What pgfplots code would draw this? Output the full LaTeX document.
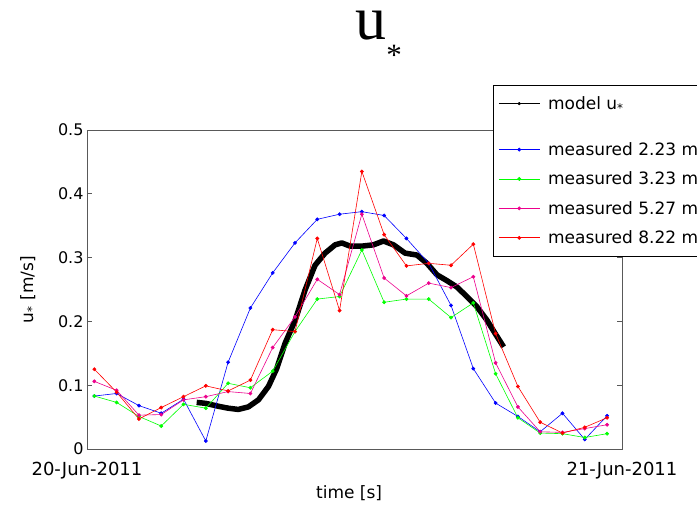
\documentclass[border=0pt]{standalone}
\usepackage{fontspec}
\setmainfont{DejaVu Sans}
\newfontfamily\titlefont{Liberation Serif}
\usepackage{pgfplots}
\pgfplotsset{compat=1.18}
\usepackage{pgfplotstable}

\pgfplotstableread{
h      b      g      m      r
0.33   0.083  0.083  0.106  0.125
1.33   0.087  0.073  0.092  0.089
2.33   0.068  0.051  0.053  0.047
3.33   0.056  0.036  0.054  0.065
4.33   0.078  0.070  0.077  0.082
5.33   0.0125 0.064  0.082  0.099
6.33   0.136  0.103  0.090  0.091
7.33   0.221  0.096  0.087  0.108
8.33   0.276  0.122  0.159  0.187
9.33   0.323  0.184  0.207  0.184
10.33  0.360  0.235  0.266  0.330
11.33  0.368  0.239  0.242  0.217
12.33  0.372  0.312  0.368  0.435
13.33  0.366  0.230  0.268  0.336
14.33  0.330  0.235  0.240  0.287
15.33  0.291  0.235  0.260  0.291
16.33  0.225  0.206  0.253  0.288
17.33  0.126  0.229  0.270  0.321
18.33  0.072  0.118  0.135  0.181
19.33  0.051  0.049  0.066  0.098
20.33  0.027  0.025  0.027  0.042
21.33  0.056  0.024  0.026  0.025
22.33  0.015  0.018  0.032  0.034
23.33  0.052  0.024  0.038  0.049
}\measured

\pgfplotstableread{
h      u
4.92   0.073
5.33   0.0715
5.89   0.067
6.33   0.064
6.79   0.062
7.24   0.066
7.69   0.077
8.14   0.098
8.51   0.126
8.89   0.166
9.34   0.202
9.78   0.249
10.23  0.288
10.68  0.307
11.13  0.320
11.43  0.323
11.80  0.318
12.33  0.318
12.85  0.320
13.30  0.326
13.75  0.320
14.27  0.307
14.80  0.304
15.25  0.291
15.70  0.273
16.14  0.264
16.59  0.254
17.04  0.239
17.49  0.223
17.94  0.202
18.31  0.181
18.69  0.160
}\model

\begin{document}
\begin{tikzpicture}
\begin{axis}[
  scale only axis,
  width=535pt, height=319pt,
  xmin=0, xmax=24, ymin=0, ymax=0.5,
  xtick={0,24},
  xticklabels={20-Jun-2011,21-Jun-2011},
  ytick={0,0.1,0.2,0.3,0.4,0.5},
  yticklabels={0,0.1,0.2,0.3,0.4,0.5},
  xticklabel style={font=\fontsize{18}{18}\selectfont, yshift=-10pt},
  yticklabel style={font=\fontsize{16}{16}\selectfont},
  axis line style={draw=black!65, line width=0.8pt},
  major tick style={draw=black!65, line width=0.8pt},
  major tick length=5pt,
  xlabel={time [s]},
  ylabel={u\textsubscript{*} [m/s]},
  label style={font=\fontsize{17}{17}\selectfont},
  xlabel style={at={(axis description cs:0.49,-0.138)}, anchor=center},
  ylabel style={at={(axis description cs:-0.1103,0.5)}, anchor=center},
  title={\smash{u\raisebox{-26pt}{\fontsize{31}{31}\selectfont *}}},
  title style={at={(axis description cs:0.495,1)}, anchor=base west, yshift=85pt,
    font=\titlefont\fontsize{62}{62}\selectfont},
  legend image code/.code={\draw[mark repeat=2,mark phase=2,#1] plot coordinates {(0pt,0pt) (20.5pt,0pt) (41pt,0pt)}; \path (0pt,0pt) (47pt,0pt);},
  legend style={at={(axis description cs:0.759,1.141)}, anchor=north west,
    draw=black, line width=0.8pt, fill=white,
    inner xsep=5pt, inner ysep=9pt, row sep=11pt,
    font=\fontsize{17}{17}\selectfont,
    cells={anchor=west}},
  legend cell align=left,
  every axis plot/.append style={line width=0.6pt, mark=*, mark size=1.6pt},
]
\addplot[black, line width=5.5pt, mark=none, line join=round,
  legend image post style={line width=0.6pt, mark=*, mark size=1.3pt}] table[x=h, y=u] {\model};
\addlegendentry{model u\textsubscript{*}}
\addlegendimage{empty legend}
\addlegendentry{}
\addplot[blue, mark options={fill=blue}] table[x=h, y=b] {\measured};
\addlegendentry{measured 2.23 m}
\addplot[green, mark options={fill=green}] table[x=h, y=g] {\measured};
\addlegendentry{measured 3.23 m}
\addplot[magenta, mark options={fill=magenta}] table[x=h, y=m] {\measured};
\addlegendentry{measured 5.27 m}
\addplot[red, mark options={fill=red}] table[x=h, y=r] {\measured};
\addlegendentry{measured 8.22 m}
\end{axis}
\pgfresetboundingbox
\path[use as bounding box] (-87pt,-59pt) rectangle (610pt,449pt);
\end{tikzpicture}
\end{document}
